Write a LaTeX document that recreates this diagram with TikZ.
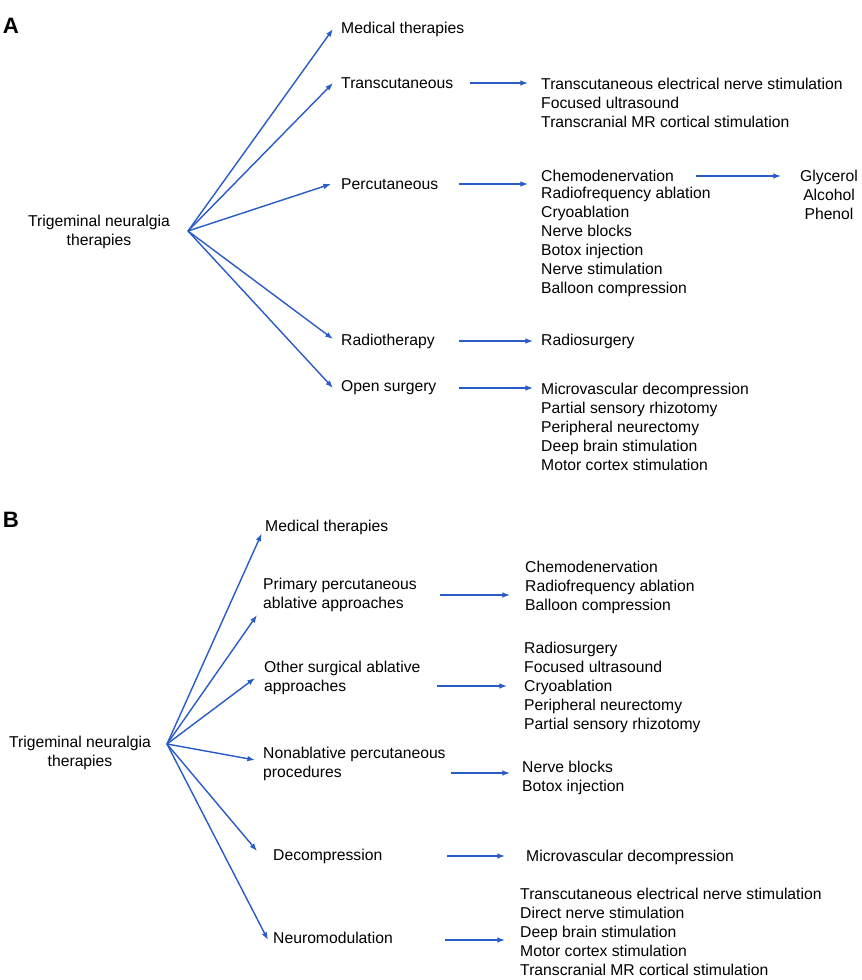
\documentclass[tikz,border=0pt]{standalone}
\usepackage{fontspec}
\setmainfont{Liberation Sans}
\usepackage{tikz}
\usetikzlibrary{arrows.meta}
\definecolor{arrowblue}{RGB}{41,92,199}

\begin{document}
\begin{tikzpicture}[
  x=0.03cm, y=-0.03cm,
  font=\fontsize{13.4}{16.2}\selectfont,
  arrow/.style={-{Latex[length=2.3mm,width=1.7mm]}, line width=1.2pt, draw=arrowblue},
  lab/.style={anchor=west, inner sep=0pt, align=left},
  root/.style={inner sep=0pt, align=center},
  panel/.style={inner sep=0pt, font=\fontsize{19}{19}\selectfont\bfseries}
]
\useasboundingbox (0,0) rectangle (861,980);

% Panel A: therapy groups
\node[panel] (panA) at (11,26) {A};
\node[root] (rootA) at (99,232) {Trigeminal neuralgia\\therapies};
\coordinate (hubA) at (188,231);
\node[lab] (medA) at (341,29) {Medical therapies};
\node[lab] (transA) at (341,83) {Transcutaneous};
\node[lab] (percA) at (341,184) {Percutaneous};
\node[lab] (radioA) at (341,341) {Radiotherapy};
\node[lab] (openA) at (341,388) {Open surgery};

% Panel A: procedures
\node[lab] (transL) at (541,103) {Transcutaneous electrical nerve stimulation\\Focused ultrasound\\Transcranial MR cortical stimulation};
\node[lab] (chemoA) at (541,176) {Chemodenervation};
\node[lab] (percL) at (541,242) {Radiofrequency ablation\\Cryoablation\\Nerve blocks\\Botox injection\\Nerve stimulation\\Balloon compression};
\node[lab] (radioL) at (541,341) {Radiosurgery};
\node[lab] (openL) at (541,427) {Microvascular decompression\\Partial sensory rhizotomy\\Peripheral neurectomy\\Deep brain stimulation\\Motor cortex stimulation};
\node[root] (agentL) at (829,195) {Glycerol\\Alcohol\\Phenol};

% Panel A: connectors
\draw[arrow] (hubA) -- ([xshift=-0.24cm]medA.west);
\draw[arrow] (hubA) -- ([xshift=-0.24cm]transA.west);
\draw[arrow] (hubA) -- ([xshift=-0.3cm]percA.west);
\draw[arrow] (hubA) -- ([xshift=-0.24cm,yshift=0.06cm]radioA.west);
\draw[arrow] (hubA) -- ([xshift=-0.24cm]openA.west);
\draw[arrow] ([xshift=0.5cm]transA.east) -- ([xshift=-0.39cm]transA.east -| transL.west);
\draw[arrow] ([xshift=0.63cm]percA.east) -- ([xshift=-0.39cm]percA.east -| chemoA.west);
\draw[arrow] ([xshift=0.72cm]radioA.east) -- ([xshift=-0.24cm]radioL.west);
\draw[arrow] ([xshift=0.66cm]openA.east) -- ([xshift=-0.24cm]openA.east -| openL.west);
\draw[arrow] ([xshift=0.66cm]chemoA.east) -- ([xshift=-0.57cm]chemoA.east -| agentL.west);

% Panel B: therapy groups
\node[panel] (panB) at (11,520) {B};
\node[root] (rootB) at (80,753) {Trigeminal neuralgia\\therapies};
\coordinate (hubB) at (167,744);
\node[lab] (medB) at (265,527) {Medical therapies};
\node[lab] (primB) at (263,595) {Primary percutaneous\\ablative approaches};
\node[lab] (otherB) at (264,678) {Other surgical ablative\\approaches};
\node[lab] (nonB) at (263,764) {Nonablative percutaneous\\procedures};
\node[lab] (decB) at (273,856) {Decompression};
\node[lab] (neuroB) at (273,938) {Neuromodulation};

% Panel B: procedures
\node[lab] (primL) at (525,587) {Chemodenervation\\Radiofrequency ablation\\Balloon compression};
\node[lab] (otherL) at (524,687) {Radiosurgery\\Focused ultrasound\\Cryoablation\\Peripheral neurectomy\\Partial sensory rhizotomy};
\node[lab] (nonL) at (522,778) {Nerve blocks\\Botox injection};
\node[lab] (decL) at (526,857) {Microvascular decompression};
\node[lab] (neuroL) at (520,932) {Transcutaneous electrical nerve stimulation\\Direct nerve stimulation\\Deep brain stimulation\\Motor cortex stimulation\\Transcranial MR cortical stimulation};

% Panel B: connectors
\draw[arrow] (hubB) -- ([xshift=-0.1cm,yshift=0.03cm]medB.south west);
\draw[arrow] (hubB) -- ([xshift=-0.18cm,yshift=-0.09cm]primB.south west);
\draw[arrow] (hubB) -- ([xshift=-0.27cm]otherB.west);
\draw[arrow] (hubB) -- ([xshift=-0.24cm,yshift=0.12cm]nonB.west);
\draw[arrow] (hubB) -- ([xshift=-0.48cm,yshift=0.15cm]decB.west);
\draw[arrow] (hubB) -- ([xshift=-0.15cm,yshift=-0.06cm]neuroB.west);
\draw[arrow] ([xshift=0.69cm]primB.east) -- ([xshift=-0.45cm]primB.east -| primL.west);
\draw[arrow] ([xshift=0.48cm,yshift=-0.24cm]otherB.east) -- ([xshift=-0.51cm,yshift=-0.24cm]otherB.east -| otherL.west);
\draw[arrow] ([xshift=0.15cm,yshift=-0.27cm]nonB.east) -- ([xshift=-0.36cm,yshift=-0.27cm]nonB.east -| nonL.west);
\draw[arrow] ([xshift=1.92cm]decB.east) -- ([xshift=-0.63cm]decB.east -| decL.west);
\draw[arrow] ([xshift=1.56cm,yshift=-0.06cm]neuroB.east) -- ([xshift=-0.45cm,yshift=-0.06cm]neuroB.east -| neuroL.west);

\end{tikzpicture}
\end{document}
